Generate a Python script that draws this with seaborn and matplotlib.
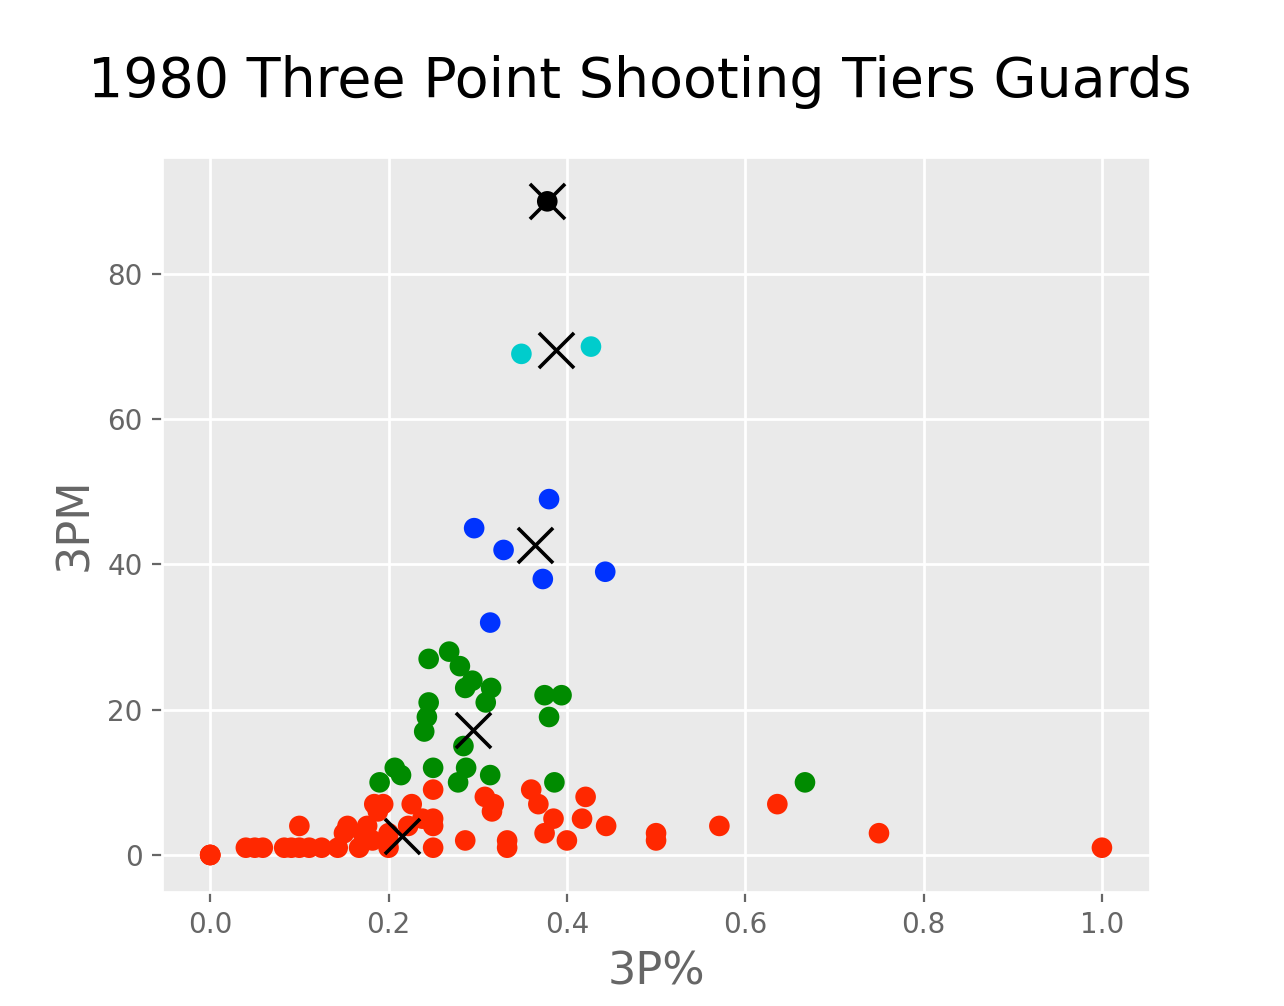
#1980 three point shooting tiers for guards, kmeans style scatter
import pandas as pd
import seaborn as sns
from matplotlib import pyplot as plt

#tier 0 (lowest volume shooters)
low_pct = [0.0, 0.0, 0.0, 0.04, 0.05, 0.059, 0.083, 0.091, 0.1, 0.111, 0.125, 0.143, 0.167, 0.2, 0.25, 0.333, 1.0,
           0.182, 0.286, 0.333, 0.4, 0.5, 0.2,
           0.15, 0.171, 0.2, 0.375, 0.5, 0.75,
           0.1, 0.154, 0.176, 0.222, 0.25, 0.444, 0.571,
           0.238, 0.25, 0.385, 0.417,
           0.188, 0.316,
           0.184, 0.194, 0.226, 0.318, 0.368, 0.636,
           0.308, 0.421,
           0.25, 0.36]
low_pm = [0, 0, 0, 1, 1, 1, 1, 1, 1, 1, 1, 1, 1, 1, 1, 1, 1,
          2, 2, 2, 2, 2, 2,
          3, 3, 3, 3, 3, 3,
          4, 4, 4, 4, 4, 4, 4,
          5, 5, 5, 5,
          6, 6,
          7, 7, 7, 7, 7, 7,
          8, 8,
          9, 9]

#tier 1
mid_pct = [0.19, 0.207, 0.214, 0.25, 0.278, 0.287, 0.314, 0.386, 0.667, 0.284, 0.24, 0.243,
           0.245, 0.309, 0.286, 0.315, 0.294, 0.28, 0.245, 0.268, 0.375, 0.394, 0.38]
mid_pm = [10, 12, 11, 12, 10, 12, 11, 10, 10, 15, 17, 19,
          21, 21, 23, 23, 24, 26, 27, 28, 22, 22, 19]

#tier 2
good_pct = [0.38, 0.296, 0.329, 0.373, 0.443, 0.314]
good_pm = [49, 45, 42, 38, 39, 32]

#tier 3
high_pct = [0.349, 0.427]
high_pm = [69, 70]

#tier 4
top_pct = [0.378]
top_pm = [90]

#cluster centers
cen_pct = [0.215, 0.295, 0.364, 0.388, 0.378]
cen_pm = [2.6, 17.2, 42.7, 69.5, 90]

tier_colors = ['#FF2800', '#008B00', '#0033FF', '#00CCCC', '#000000']

#put everything in one frame
frames = []
for t, (xs, ys) in enumerate([(low_pct, low_pm), (mid_pct, mid_pm), (good_pct, good_pm),
                              (high_pct, high_pm), (top_pct, top_pm)]):
    frames.append(pd.DataFrame({'3P%': xs, '3PM': ys, 'tier': t}))
guards = pd.concat(frames, ignore_index=True)

plt.style.use('ggplot')
plt.rcParams['font.family'] = ['DejaVu Sans']

fig = plt.figure(figsize=(6.42, 5.03), dpi=200)
ax = fig.add_axes([0.1262, 0.1133, 0.7695, 0.7306])
ax.set_facecolor('#EAEAEA')
ax.grid(color='white', linewidth=1.0)

sns.scatterplot(data=guards, x='3P%', y='3PM', hue='tier', palette=tier_colors,
                s=55, linewidth=0, legend=False, ax=ax)
sns.scatterplot(x=cen_pct, y=cen_pm, marker='x', s=160, color='black', linewidth=1.3, ax=ax)

ax.set_xlim(-0.054, 1.054)
ax.set_ylim(-5.1, 96.1)
ax.set_xticks([0.0, 0.2, 0.4, 0.6, 0.8, 1.0])
ax.set_yticks([0, 20, 40, 60, 80])
ax.tick_params(labelsize=10, colors='#666666')
ax.set_xlabel('3P%', fontsize=16, color='#666666')
ax.set_ylabel('3PM', fontsize=16, color='#666666')
fig.suptitle('1980 Three Point Shooting Tiers Guards', fontsize=20, x=0.498, y=0.945)

fig.savefig('out.png', dpi=200, facecolor='white')
